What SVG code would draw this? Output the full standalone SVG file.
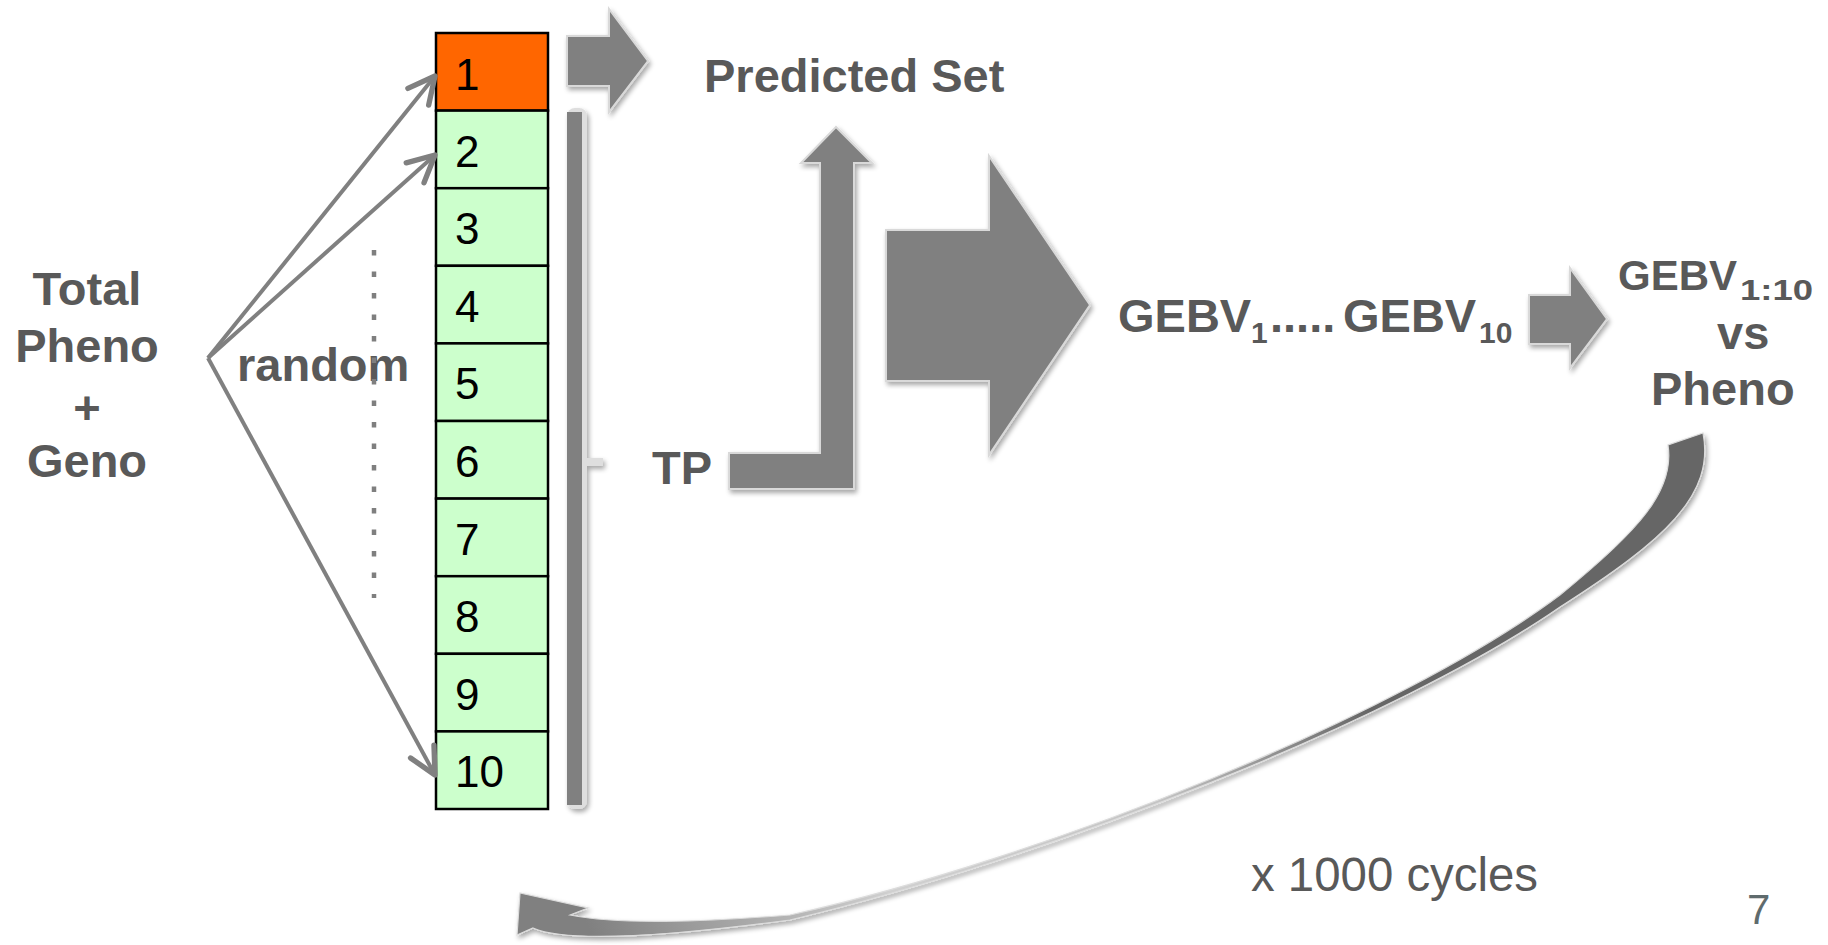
<svg xmlns="http://www.w3.org/2000/svg" width="1828" height="945" viewBox="0 0 1828 945">
<defs>
<style>
.b{font-family:"Liberation Sans",Arial,sans-serif;font-weight:bold;font-size:47px;fill:#595959}
.n{font-family:"Liberation Sans",Arial,sans-serif;font-size:44px;fill:#000}
.cell{stroke:#000;stroke-width:2.5}
.blk{fill:#808080;stroke:#d9d9d9;stroke-width:2;filter:url(#sh)}
.ln{stroke:#808080;stroke-width:4;fill:none;marker-end:url(#open)}
</style>
<marker id="open" markerUnits="userSpaceOnUse" markerWidth="40" markerHeight="40" viewBox="-25 -15 30 30" refX="0" refY="0" orient="auto">
<path d="M-20,-10 L0,0 L-20,10" fill="none" stroke="#808080" stroke-width="4" stroke-linecap="round" stroke-linejoin="round"/>
</marker>
<filter id="sh" x="-20%" y="-20%" width="150%" height="150%">
<feGaussianBlur in="SourceAlpha" stdDeviation="2.5"/>
<feOffset dx="2" dy="3" result="o"/>
<feComponentTransfer><feFuncA type="linear" slope="0.35"/></feComponentTransfer>
<feMerge><feMergeNode/><feMergeNode in="SourceGraphic"/></feMerge>
</filter>
<linearGradient id="sw" gradientUnits="userSpaceOnUse" x1="1700" y1="440" x2="520" y2="930">
<stop offset="0" stop-color="#666"/>
<stop offset="0.32" stop-color="#666"/>
<stop offset="0.5" stop-color="#c4c4c4"/>
<stop offset="0.72" stop-color="#d0d0d0"/>
<stop offset="0.86" stop-color="#a0a0a0"/>
<stop offset="0.95" stop-color="#808080"/>
<stop offset="1" stop-color="#808080"/>
</linearGradient>
</defs>
<rect width="1828" height="945" fill="#fff"/>

<g id="source">
<text class="b" text-anchor="middle" x="87" y="305">Total</text>
<text class="b" text-anchor="middle" x="87" y="362">Pheno</text>
<text class="b" text-anchor="middle" x="87" y="424">+</text>
<text class="b" text-anchor="middle" x="87" y="477">Geno</text>
</g>

<g id="random-label">
<text class="b" x="237" y="381">random</text>
</g>

<g id="folds">
<g id="fold1"><rect class="cell" x="436" y="33" width="112" height="77.6" fill="#FF6600"/><text class="n" x="455" y="90">1</text></g>
<g id="fold2"><rect class="cell" x="436" y="110.6" width="112" height="77.6" fill="#CCFFCC"/><text class="n" x="455" y="166.5">2</text></g>
<g id="fold3"><rect class="cell" x="436" y="188.2" width="112" height="77.6" fill="#CCFFCC"/><text class="n" x="455" y="244">3</text></g>
<g id="fold4"><rect class="cell" x="436" y="265.8" width="112" height="77.6" fill="#CCFFCC"/><text class="n" x="455" y="321.5">4</text></g>
<g id="fold5"><rect class="cell" x="436" y="343.4" width="112" height="77.6" fill="#CCFFCC"/><text class="n" x="455" y="399">5</text></g>
<g id="fold6"><rect class="cell" x="436" y="421" width="112" height="77.6" fill="#CCFFCC"/><text class="n" x="455" y="477">6</text></g>
<g id="fold7"><rect class="cell" x="436" y="498.6" width="112" height="77.6" fill="#CCFFCC"/><text class="n" x="455" y="554.5">7</text></g>
<g id="fold8"><rect class="cell" x="436" y="576.2" width="112" height="77.6" fill="#CCFFCC"/><text class="n" x="455" y="632">8</text></g>
<g id="fold9"><rect class="cell" x="436" y="653.8" width="112" height="77.6" fill="#CCFFCC"/><text class="n" x="455" y="709.5">9</text></g>
<g id="fold10"><rect class="cell" x="436" y="731.4" width="112" height="77.6" fill="#CCFFCC"/><text class="n" x="455" y="787">10</text></g>
</g>

<g id="bracket" filter="url(#sh)">
<rect x="567" y="108" width="20" height="701" rx="8" fill="#dedede"/>
<rect x="585" y="458" width="18" height="8" fill="#dedede"/>
<rect x="567" y="112" width="15" height="693" fill="#808080"/>
</g>

<g id="predicted-label">
<text class="b" x="704" y="92">Predicted Set</text>
</g>
<g id="tp-label">
<text class="b" x="652" y="484">TP</text>
</g>
<g id="gebv-label">
<text class="b"><tspan x="1118" y="332">GEBV</tspan><tspan x="1251" y="343" font-size="30">1</tspan><tspan x="1270" y="332">.....</tspan><tspan x="1343" y="332">GEBV</tspan><tspan x="1479" y="343" font-size="30">10</tspan></text>
</g>
<g id="compare-label">
<text class="b"><tspan x="1618" y="290" font-size="42">GEBV</tspan><tspan x="1740" y="300" font-size="30" textLength="73" lengthAdjust="spacingAndGlyphs">1:10</tspan></text>
<text class="b" x="1717" y="349">vs</text>
<text class="b" x="1651" y="405">Pheno</text>
</g>
<g id="cycles-label">
<text x="1251" y="891" font-family="Liberation Sans, Arial, sans-serif" font-size="48" fill="#595959" textLength="287" lengthAdjust="spacingAndGlyphs">x 1000 cycles</text>
</g>
<g id="page-number">
<text x="1747" y="924" font-family="Liberation Sans, Arial, sans-serif" font-size="42" fill="#5f6b6d">7</text>
</g>

<g id="connectors">
<line class="ln" x1="208" y1="358" x2="435" y2="76"/>
<line class="ln" x1="208" y1="358" x2="435" y2="155"/>
<line class="ln" x1="208" y1="358" x2="435" y2="775"/>
<line x1="374" y1="250" x2="374" y2="598" stroke="#7f7f7f" stroke-width="4.5" stroke-dasharray="5.5 16"/>
<polygon class="blk" points="567,36 609,36 609,9 648,61 609,112 609,86 567,86"/>
<polygon class="blk" points="729,453 820,453 820,163 801,163 836,127 872,163 854,163 854,489 729,489"/>
<polygon class="blk" points="886,230 989,230 989,156 1090,305 989,455 989,381 886,381"/>
<polygon class="blk" points="1529,295 1570,295 1570,268 1607,319 1570,368 1570,344 1529,344"/>
<path d="M533,928 C560,940 640,940 790,920 C1050,858 1400,718 1560,607 C1665,540 1715,495 1703,433 L1668,445 C1675,490 1640,530 1560,595 C1400,715 1050,857 790,915 C700,922 620,925 570,915 L588,908 L520,893 L517,935 Z" fill="url(#sw)" stroke="#dcdcdc" stroke-width="1.2" filter="url(#sh)"/>
</g>
</svg>
